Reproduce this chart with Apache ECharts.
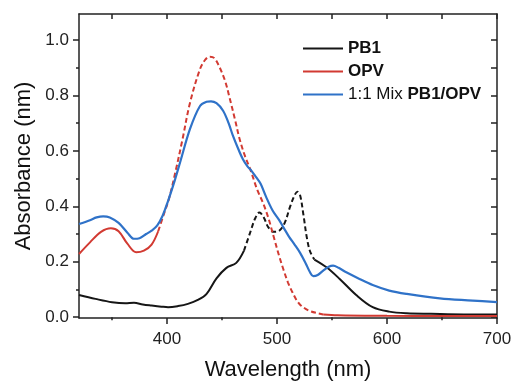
<!DOCTYPE html>
<html>
<head>
<meta charset="utf-8">
<script src="https://cdn.jsdelivr.net/npm/echarts@6/dist/echarts.min.js"></script>
<style>html,body{margin:0;padding:0;background:#fff;}#c{width:511px;height:381px;}</style>
</head>
<body>
<div id="c"></div>
<script>
// ---- data ----
const pb1Wl = [320,335,350,362,370,378,386,395,401,410,419,428,436,445,454,463,470,476,480,484,488,492,497,502,507,512,516,518.5,521,524,527,530,534,545,557,572,587,602,618,640,670,700];
const pb1Abs = [0.080,0.066,0.054,0.050,0.052,0.046,0.042,0.038,0.036,0.040,0.048,0.062,0.084,0.140,0.178,0.196,0.240,0.310,0.355,0.378,0.360,0.325,0.308,0.312,0.340,0.400,0.440,0.453,0.440,0.370,0.290,0.238,0.208,0.180,0.138,0.080,0.036,0.020,0.014,0.012,0.010,0.010];

const opvWl = [320,330,340,349,356,364,372,379,386,392,397,402,408,414,421,430,435,439,443,448,453,457,462,466,471,476,482,487,492,497,502,506,510,514,518,521,526,530,536,542,555,600,650,700];
const opvAbs = [0.228,0.270,0.308,0.321,0.310,0.265,0.234,0.240,0.262,0.310,0.370,0.430,0.530,0.640,0.775,0.895,0.930,0.940,0.935,0.900,0.850,0.790,0.710,0.643,0.580,0.530,0.460,0.415,0.360,0.290,0.220,0.170,0.125,0.090,0.060,0.045,0.030,0.022,0.015,0.010,0.007,0.005,0.004,0.004];

const mixWl = [320,330,336,342,348,356,364,370,375,381,386,391,396,401,406,412,421,430,436,440,445,451,456,460,465,469,473,477,481,485,490,496,502,506,511,516,521,526,530,533,537,542,547,551,556,563,575,587,602,618,648,678,700];
const mixAbs = [0.336,0.350,0.360,0.364,0.360,0.340,0.305,0.283,0.285,0.300,0.312,0.330,0.366,0.420,0.480,0.560,0.680,0.762,0.777,0.779,0.772,0.745,0.700,0.654,0.605,0.570,0.545,0.527,0.505,0.482,0.435,0.385,0.350,0.323,0.290,0.262,0.232,0.195,0.162,0.148,0.152,0.168,0.182,0.186,0.178,0.162,0.138,0.116,0.096,0.084,0.068,0.060,0.054];

const seriesNames = ['PB1', 'OPV', 'Mix'];
const xLabelValues = [400, 500, 600, 700];
const xMinorValues = [350, 450, 550, 650];
const yLabelValues = [0.0, 0.2, 0.4, 0.6, 0.8, 1.0];
const yMinorValues = [0.1, 0.3, 0.5, 0.7, 0.9];
const xTitle = 'Wavelength (nm)';
const yTitle = 'Absorbance (nm)';

// ---- styling / segmenting ----
const FONT = '"Liberation Sans", Arial, Helvetica, sans-serif';
const colors = { PB1: '#161616', OPV: '#d23a32', Mix: '#2f72c8' };
// wavelength ranges where the reference line appears dashed
const dashedRanges = { PB1: [[470, 534]], OPV: [[392, 542]], Mix: [] };

function pairs(wl, ab) { return wl.map((w, i) => [w, ab[i]]); }

function segments(name, wl, ab) {
  const pts = pairs(wl, ab);
  const cuts = [];
  dashedRanges[name].forEach(r => { cuts.push(r[0], r[1]); });
  const bounds = [wl[0]].concat(cuts).concat([wl[wl.length - 1]]);
  const out = [];
  for (let k = 0; k < bounds.length - 1; k++) {
    const a = bounds[k], b = bounds[k + 1];
    out.push({ data: pts.filter(p => p[0] >= a && p[0] <= b), dashed: (k % 2 === 1) });
  }
  return out;
}

const series = [];
const srcs = { PB1: [pb1Wl, pb1Abs], OPV: [opvWl, opvAbs], Mix: [mixWl, mixAbs] };
seriesNames.forEach(name => {
  const [wl, ab] = srcs[name];
  segments(name, wl, ab).forEach(seg => {
    series.push({
      name: name,
      type: 'line',
      xAxisIndex: 0, yAxisIndex: 0,
      data: seg.data,
      smooth: 0.35,
      symbol: 'none',
      color: colors[name],
      lineStyle: { color: colors[name], width: name === 'Mix' ? 2.2 : 2, type: seg.dashed ? [5, 3] : 'solid' },
      emphasis: { disabled: true },
      z: name === 'Mix' ? 3 : 2
    });
  });
});

const axisLine = { show: true, onZero: false, lineStyle: { color: '#222', width: 1.5 } };
const xMin = 320, xMax = 700, yMin = -0.003, yMax = 1.094;

const option = {
  animation: false,
  backgroundColor: '#fff',
  grid: { left: 79, right: 14, top: 14, bottom: 63, containLabel: false, outerBoundsMode: 'none' },
  legend: {
    data: seriesNames,
    orient: 'vertical',
    left: 303, top: 40, padding: 0,
    itemWidth: 40, itemHeight: 2, itemGap: 6,
    icon: 'rect',
    selectedMode: false,
    textStyle: { fontFamily: FONT, fontSize: 17, color: '#111',
      rich: { b: { fontFamily: FONT, fontSize: 17, fontWeight: 'bold', color: '#111' } } },
    formatter: function (n) { return n === 'Mix' ? '1:1 Mix {b|PB1/OPV}' : '{b|' + n + '}'; }
  },
  xAxis: [
    { type: 'value', position: 'bottom', min: xMin, max: xMax,
      axisLine: axisLine, splitLine: { show: false },
      axisTick: { show: true, inside: false, length: 6, customValues: xLabelValues, lineStyle: { color: '#222', width: 1.5 } },
      axisLabel: { show: true, customValues: xLabelValues, margin: 13, fontFamily: FONT, fontSize: 17, color: '#222' },
      name: xTitle, nameLocation: 'middle', nameGap: 41,
      nameTextStyle: { fontFamily: FONT, fontSize: 22, color: '#111' } },
    { type: 'value', position: 'bottom', min: xMin, max: xMax,
      axisLine: { show: false }, splitLine: { show: false },
      axisTick: { show: true, inside: false, length: 3, customValues: xMinorValues, lineStyle: { color: '#222', width: 1.5 } },
      axisLabel: { show: false } },
    { type: 'value', position: 'top', min: xMin, max: xMax,
      axisLine: axisLine, splitLine: { show: false },
      axisTick: { show: true, inside: true, length: 5, customValues: xMinorValues.concat(xLabelValues), lineStyle: { color: '#222', width: 1.5 } },
      axisLabel: { show: false } }
  ],
  yAxis: [
    { type: 'value', position: 'left', min: yMin, max: yMax,
      axisLine: axisLine, splitLine: { show: false },
      axisTick: { show: true, inside: false, length: 6, customValues: yLabelValues, lineStyle: { color: '#222', width: 1.5 } },
      axisLabel: { show: true, customValues: yLabelValues, margin: 10, fontFamily: FONT, fontSize: 17, color: '#222',
        formatter: v => v.toFixed(1) },
      name: yTitle, nameLocation: 'middle', nameGap: 41, nameRotate: 90,
      nameTextStyle: { fontFamily: FONT, fontSize: 22, color: '#111' } },
    { type: 'value', position: 'left', min: yMin, max: yMax,
      axisLine: { show: false }, splitLine: { show: false },
      axisTick: { show: true, inside: false, length: 3, customValues: yMinorValues, lineStyle: { color: '#222', width: 1.5 } },
      axisLabel: { show: false } },
    { type: 'value', position: 'right', min: yMin, max: yMax,
      axisLine: axisLine, splitLine: { show: false },
      axisTick: { show: true, inside: true, length: 6, customValues: yMinorValues.concat(yLabelValues), lineStyle: { color: '#222', width: 1.5 } },
      axisLabel: { show: false } }
  ],
  series: series
};

const chart = echarts.init(document.getElementById('c'), null, { renderer: 'canvas' });
chart.setOption(option);
</script>
</body>
</html>
